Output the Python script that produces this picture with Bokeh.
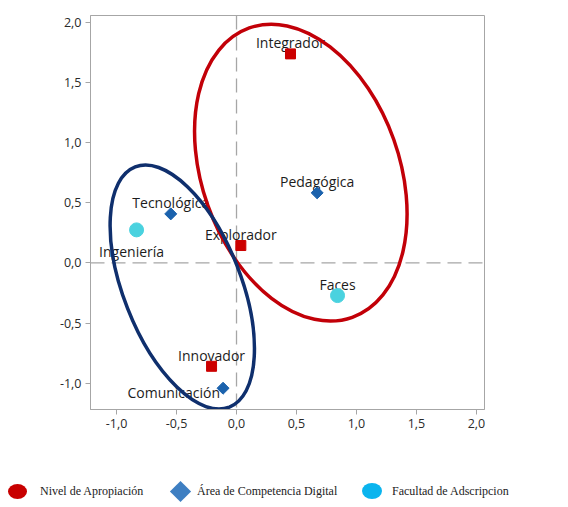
from bokeh.plotting import figure
from bokeh.layouts import column
from bokeh.models import Span, FixedTicker, ColumnDataSource, Range1d, Div
from bokeh.embed import file_html
from bokeh.resources import INLINE
from bokeh.core.properties import value

# ---------------- data ----------------
nivel_labels = ["Integrador", "Explorador", "Innovador"]
nivel_x = [0.45, 0.036, -0.208]
nivel_y = [1.737, 0.144, -0.86]

area_labels = ["Pedagógica", "Tecnológica", "Comunicación"]
area_x = [0.672, -0.548, -0.112]
area_y = [0.582, 0.407, -1.042]

facultad_labels = ["Faces", "Ingeniería"]
facultad_x = [0.842, -0.833]
facultad_y = [-0.272, 0.274]

ellipse_x = [0.536, -0.452]
ellipse_y = [0.75, -0.201]
ellipse_w = [2.56, 2.15]
ellipse_h = [1.64, 0.977]
ellipse_angle_deg = [109.6, 111.4]

tick_values = [-1.0, -0.5, 0.0, 0.5, 1.0, 1.5, 2.0]
tick_labels = ["-1,0", "-0,5", "0,0", "0,5", "1,0", "1,5", "2,0"]

legend_labels = ["Nivel de Apropiación", "Área de Competencia Digital", "Facultad de Adscripcion"]

# ---------------- styles ----------------
RED = "#cc0000"
BLUE = "#1b62ad"
CYAN = "#4ad2df"
ELL_COLORS = ["#c20008", "#0f2f6d"]
GRID_GRAY = "#a6a6a6"
FONT = "Open Sans"

label_style = {  # align, x_offset, y_offset (screen px)
    "Ingeniería": ("center", -5, 22),
    "Comunicación": ("right", -3, 4),
}
default_label_style = ("center", 0, -11)

p = figure(width=560, height=476, output_backend="svg", toolbar_location=None,
           title=None,
           x_range=Range1d(-1.217, 2.067), y_range=Range1d(-1.219, 2.056),
           min_border_left=90, min_border_right=76, min_border_top=15, min_border_bottom=67)

p.xgrid.visible = False
p.ygrid.visible = False
p.outline_line_color = GRID_GRAY
p.outline_line_width = 1
p.background_fill_color = "white"
p.border_fill_color = "white"

for ax in (p.xaxis[0], p.yaxis[0]):
    ax.ticker = FixedTicker(ticks=tick_values)
    ax.major_label_overrides = {v: s for v, s in zip(tick_values, tick_labels)}
    ax.axis_line_color = GRID_GRAY
    ax.major_tick_line_color = GRID_GRAY
    ax.major_tick_out = 5
    ax.major_tick_in = 0
    ax.minor_tick_line_color = None
    ax.major_label_text_font = FONT
    ax.major_label_text_font_size = "12.5px"
    ax.major_label_text_color = "#2a2a2a"
    ax.major_label_standoff = 4

# reference lines
for dim in ("width", "height"):
    p.add_layout(Span(location=0, dimension=dim, line_color=GRID_GRAY,
                      line_width=1.3, line_dash="14 7", level="underlay"))

# labels (drawn before ellipses so the ellipse lines cover them)
all_labels = nivel_labels + area_labels + facultad_labels
all_x = nivel_x + area_x + facultad_x
all_y = nivel_y + area_y + facultad_y
aligns, xo, yo = [], [], []
for lab in all_labels:
    a, dx, dy = label_style.get(lab, default_label_style)
    aligns.append(a); xo.append(dx); yo.append(dy)
lab_src = ColumnDataSource(dict(x=all_x, y=all_y, text=all_labels, align=aligns, xo=xo, yo=yo))
p.text(x="x", y="y", text="text", source=lab_src, text_align="align",
       x_offset="xo", y_offset="yo", text_baseline="alphabetic",
       text_font=value(FONT), text_font_size=value("14px"), text_color="#1c1c1c")

# points
p.scatter(nivel_x, nivel_y, marker="square", size=10, fill_color=RED, line_color=RED)
p.scatter(area_x, area_y, marker="square", angle=0.7854, size=8.5, fill_color=BLUE, line_color=BLUE)
p.scatter(facultad_x, facultad_y, marker="circle", size=14, fill_color=CYAN, line_color=CYAN)

# ellipses
ell_src = ColumnDataSource(dict(x=ellipse_x, y=ellipse_y, w=ellipse_w, h=ellipse_h,
                                a=ellipse_angle_deg, c=ELL_COLORS))
p.ellipse(x="x", y="y", width="w", height="h", angle="a", angle_units="deg",
          source=ell_src, fill_color=None, line_color="c", line_width=3.5)

# ---------------- legend strip (HTML) ----------------
# (key left, key width, key height, key css, text left)
legend_keys = [
    (8, 19, 15, "background:#c80000;border-radius:50%;", 40),
    (173, 15, 15, "background:#3e7fc2;transform:rotate(45deg);", 197),
    (362, 20, 16, "background:#0ab4ee;border-radius:50%;", 392),
]
STRIP_H = 30
parts = []
for lab, (kl, kw, kh, css, tl) in zip(legend_labels, legend_keys):
    top = STRIP_H / 2 - kh / 2
    parts.append(f'<div style="position:absolute;left:{kl}px;top:{top}px;width:{kw}px;'
                 f'height:{kh}px;{css}"></div>')
    parts.append(f'<div style="position:absolute;left:{tl}px;top:0px;height:{STRIP_H}px;'
                 f'line-height:{STRIP_H}px;white-space:nowrap;">{lab}</div>')
html = (f'<div style="position:relative;width:560px;height:{STRIP_H}px;'
        f'font-family:\'Liberation Serif\',\'Times New Roman\',serif;font-size:12px;color:#222;">'
        + "".join(parts) + '</div>')
legend_div = Div(text=html, width=560, height=STRIP_H, margin=(0, 0, 0, 0))

layout = column(p, legend_div, spacing=0)
open("out.html", "w").write(file_html(layout, INLINE))
